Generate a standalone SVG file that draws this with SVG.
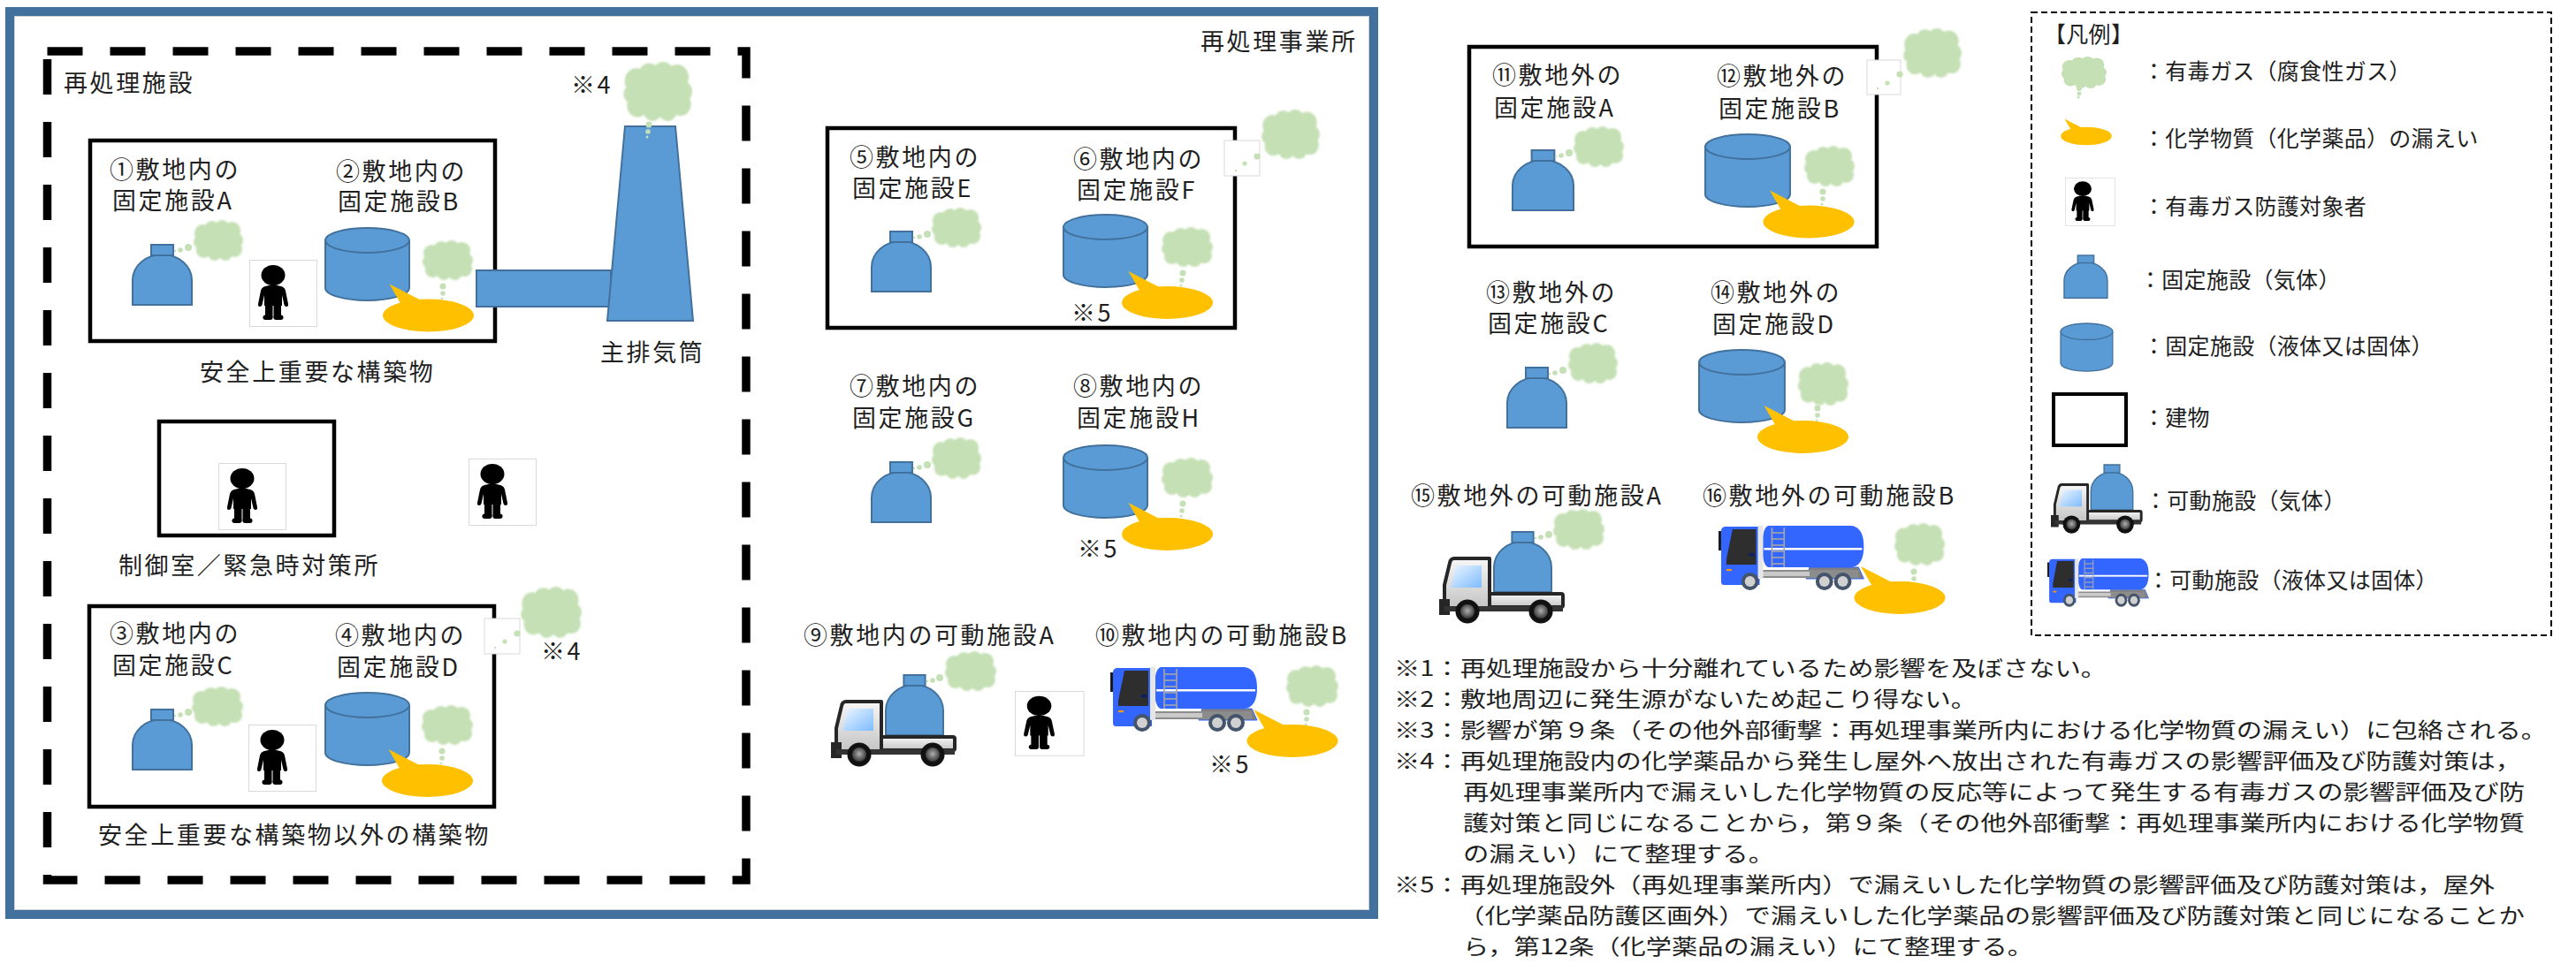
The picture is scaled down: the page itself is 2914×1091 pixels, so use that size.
<svg xmlns="http://www.w3.org/2000/svg" xmlns:xlink="http://www.w3.org/1999/xlink" width="2914" height="1091" viewBox="0 0 2914 1091">
<style>
  text { font-family: "Noto Sans CJK JP", "Noto Sans CJK SC", sans-serif; fill: #1f1f1f; }
  .lbl { font-size: 27px; letter-spacing: 2.6px; }
  .leg { font-size: 25px; letter-spacing: 0.3px; }
  .note { font-size: 24px; }
  .bldg { fill: none; stroke: #000; stroke-width: 4.5; }
  .blue { fill: #5B9BD5; stroke: #41719C; stroke-width: 2; }
  .gas { fill: #C5E0B4; }
  .leakc { fill: #FFC000; }
  .pbox { fill: #fff; stroke: #d9d9d9; stroke-width: 1; }
</style>
<defs>
  <filter id="soft" x="-10%" y="-10%" width="120%" height="120%">
    <feGaussianBlur stdDeviation="0.9"/>
  </filter>
  <linearGradient id="tbody" x1="0" y1="0" x2="0" y2="1">
    <stop offset="0" stop-color="#f7f7f7"/>
    <stop offset="1" stop-color="#c4c4c4"/>
  </linearGradient>
  <linearGradient id="twin" x1="0" y1="0" x2="1" y2="1">
    <stop offset="0" stop-color="#eef6ff"/>
    <stop offset="1" stop-color="#7dbcff"/>
  </linearGradient>
  <radialGradient id="hub" cx="0.5" cy="0.45" r="0.6">
    <stop offset="0" stop-color="#b0b0b0"/>
    <stop offset="1" stop-color="#2a2a2a"/>
  </radialGradient>

  <!-- toxic gas cloud, 60 x 46 -->
  <g id="cloud" class="gas" filter="url(#soft)">
    <ellipse cx="30" cy="24" rx="22" ry="16"/>
    <circle cx="12" cy="15" r="10"/>
    <circle cx="23" cy="10" r="9"/>
    <circle cx="35" cy="9" r="9"/>
    <circle cx="47" cy="12" r="10"/>
    <circle cx="52" cy="23" r="8"/>
    <circle cx="50" cy="33" r="9"/>
    <circle cx="39" cy="38" r="8"/>
    <circle cx="26" cy="38" r="8"/>
    <circle cx="13" cy="34" r="9"/>
    <circle cx="8" cy="25" r="7"/>
  </g>

  <!-- fixed facility (gas): bottle, 67 x 68 -->
  <g id="bottle">
    <path class="blue" d="M0,68 V40 A33.5,29 0 0 1 67,40 V68 Z"/>
    <rect class="blue" x="21" y="0" width="25" height="12"/>
  </g>

  <!-- fixed facility (liquid/solid): tank, 95 x 82 -->
  <g id="tank">
    <path class="blue" d="M0,14 V68 A47.5,14 0 0 0 95,68 V14 A47.5,14 0 0 0 0,14 Z"/>
    <path class="blue" fill="none" d="M0,14 A47.5,14 0 0 0 95,14"/>
  </g>

  <!-- chemical leak puddle, centred on the ellipse -->
  <g id="leak" class="leakc">
    <ellipse cx="0" cy="0" rx="51.5" ry="18.5"/>
    <polygon points="-44,-35.5 -31,-13 -31,0 -8,0 -8,-17"/>
  </g>

  <!-- protected person, 76 x 75 -->
  <g id="person">
    <rect class="pbox" x="0.5" y="0.5" width="76" height="75"/>
    <g fill="#000">
      <ellipse cx="27" cy="17.5" rx="13.5" ry="11.5"/>
      <path d="M18,30 Q27,27 36,30 Q40,31 41,35 L44,50 Q44.5,53 42,53 Q40,53 39.5,51 L37,40 L37,52 L17,52 L17,40 L14.5,51 Q14,53 12,53 Q9.5,53 10,50 L13,35 Q14,31 18,30 Z"/>
      <rect x="18" y="48" width="8.5" height="17"/>
      <rect x="27.5" y="48" width="8.5" height="17"/>
      <rect x="15.5" y="62.5" width="11" height="5.5" rx="2.7"/>
      <rect x="27.5" y="62.5" width="11" height="5.5" rx="2.7"/>
    </g>
  </g>

  <!-- mobile facility (gas): small truck carrying a bottle, 142 x 104 -->
  <g id="truck">
    <use href="#bottle" transform="translate(62,0) scale(0.97,1)"/>
    <rect x="52" y="70" width="88" height="15" rx="2" fill="url(#tbody)" stroke="#262626" stroke-width="4"/>
    <path d="M17,30 H57 V86 H6 V60 L12,35 Q13,30 17,30 Z" fill="url(#tbody)" stroke="#262626" stroke-width="4" stroke-linejoin="round"/>
    <path d="M19,38 H48 V63 H13 Z" fill="url(#twin)"/>
    <rect x="0" y="76" width="12" height="18" fill="#262626"/>
    <rect x="6" y="84" width="134" height="6" fill="#333"/>
    <circle cx="32" cy="90" r="13.5" fill="#111"/>
    <circle cx="32" cy="90" r="8" fill="url(#hub)"/>
    <circle cx="115" cy="90" r="13.5" fill="#111"/>
    <circle cx="115" cy="90" r="8" fill="url(#hub)"/>
  </g>

  <!-- mobile facility (liquid/solid): tanker lorry, 166 x 73 -->
  <g id="tanker">
    <path d="M57,0 H152 Q166,2 166,23.5 Q166,45 152,47 H57 Q50,45 50,23.5 Q50,2 57,0 Z" fill="#3366FF"/>
    <rect x="52" y="25" width="112" height="2.5" fill="#fff"/>
    <g stroke="#a6a6a6" stroke-width="1.6">
      <line x1="61" y1="2" x2="61" y2="47"/>
      <line x1="75" y1="2" x2="75" y2="47"/>
      <line x1="61" y1="8" x2="75" y2="8"/>
      <line x1="61" y1="15" x2="75" y2="15"/>
      <line x1="61" y1="22" x2="75" y2="22"/>
      <line x1="61" y1="29" x2="75" y2="29"/>
      <line x1="61" y1="36" x2="75" y2="36"/>
      <line x1="61" y1="43" x2="75" y2="43"/>
    </g>
    <path d="M104,47 H160 L166,60 H100 Z" fill="#7f7f7f" stroke="#3366FF" stroke-width="1"/>
    <rect x="24" y="50" width="136" height="9" fill="#8c8c8c"/>
    <rect x="46" y="52" width="58" height="5" fill="#c9c9c9"/>
    <path d="M3,5 Q4,1 8,1 H47 V67 H6 Q3,67 3,63 Z" fill="#3366FF"/>
    <rect x="45" y="0" width="6" height="60" fill="#e6e6e6"/>
    <path d="M16,4 H43 V44 H9 V38 Z" fill="#2e2e2e"/>
    <rect x="35" y="31" width="6" height="3.5" fill="#0a1f66"/>
    <rect x="9" y="49" width="6" height="2.2" fill="#ff9900"/>
    <rect x="0" y="6" width="3" height="22" fill="#1a1a1a"/>
    <circle cx="36" cy="63" r="10" fill="#44546A"/>
    <circle cx="36" cy="63" r="6" fill="#d0d0d0"/>
    <circle cx="121" cy="63" r="10" fill="#44546A"/>
    <circle cx="121" cy="63" r="6" fill="#d0d0d0"/>
    <circle cx="142" cy="63" r="10" fill="#44546A"/>
    <circle cx="142" cy="63" r="6" fill="#d0d0d0"/>
  </g>
</defs>

<rect width="2914" height="1091" fill="#fff"/>

<!-- site boundary: 再処理事業所 -->
<g id="site">
  <rect x="11" y="13" width="1543" height="1022" fill="none" stroke="#41719C" stroke-width="10"/>
  <rect x="16.5" y="18.5" width="1532" height="1011" fill="none" stroke="#d0d0d0" stroke-width="1"/>
  <text class="lbl" x="1358" y="57">再処理事業所</text>
</g>

<!-- reprocessing facility boundary -->
<g id="facility">
  <path d="M53.5,58 H844 V996 H53.5 Z" fill="none" stroke="#000" stroke-width="9.5" stroke-dasharray="40 31"/>
  <text class="lbl" x="72" y="104">再処理施設</text>
</g>

<!-- safety-important structure -->
<g id="bldg-safety">
  <rect class="bldg" x="102" y="159" width="458" height="227"/>
  <text class="lbl" x="226" y="431">安全上重要な構築物</text>
</g>

<g id="node-1">
  <text class="lbl" x="124" y="202">①敷地内の</text>
  <text class="lbl" x="127" y="237">固定施設A</text>
  <use href="#bottle" transform="translate(150,277)"/>
  <circle class="gas" cx="198" cy="284" r="1.2"/>
  <circle class="gas" cx="204" cy="283" r="2.8"/>
  <circle class="gas" cx="213" cy="280" r="4"/>
  <use href="#cloud" transform="translate(218,249) scale(0.95,1)"/>
</g>

<g id="person-1"><use href="#person" transform="translate(282,294)"/></g>

<g id="node-2">
  <text class="lbl" x="380" y="204">②敷地内の</text>
  <text class="lbl" x="382" y="238">固定施設B</text>
  <use href="#tank" transform="translate(368,258)"/>
  <use href="#cloud" transform="translate(477,272) scale(0.967,0.978)"/>
  <circle class="gas" cx="501" cy="324" r="3.5"/>
  <circle class="gas" cx="501" cy="332" r="2.8"/>
  <circle class="gas" cx="500" cy="338" r="1.5"/>
  <use href="#leak" transform="translate(484.5,357)"/>
</g>

<!-- exhaust duct from the building to the stack -->
<g id="connectors">
  <rect class="blue" x="539" y="306" width="152" height="41"/>
</g>

<g id="stack">
  <polygon class="blue" points="707,143 764,143 784,363 687,363"/>
  <use href="#cloud" transform="translate(704,70) scale(1.317,1.457)"/>
  <circle class="gas" cx="734" cy="141" r="3.5"/>
  <circle class="gas" cx="733" cy="149" r="2.8"/>
  <circle class="gas" cx="732" cy="155" r="1.5"/>
  <text class="lbl" x="646" y="106">※4</text>
  <text class="lbl" x="679" y="409">主排気筒</text>
</g>

<!-- control room / emergency response centre -->
<g id="control-room">
  <rect class="bldg" x="180" y="477" width="198" height="129"/>
  <use href="#person" transform="translate(247,524)"/>
  <text class="lbl" x="134" y="650">制御室／緊急時対策所</text>
</g>

<g id="person-outdoor"><use href="#person" transform="translate(530,519)"/></g>

<!-- other structures -->
<g id="bldg-other">
  <rect class="bldg" x="101" y="686" width="458" height="227"/>
  <text class="lbl" x="111" y="955">安全上重要な構築物以外の構築物</text>
  <rect class="pbox" x="548" y="700" width="40" height="40"/>
  <circle class="gas" cx="560" cy="733" r="1.2"/>
  <circle class="gas" cx="571" cy="726" r="2.6"/>
  <circle class="gas" cx="585" cy="717" r="3.6"/>
  <use href="#cloud" transform="translate(588,664) scale(1.167,1.261)"/>
  <text class="lbl" x="612" y="747">※4</text>
</g>

<g id="node-3">
  <text class="lbl" x="124" y="727">③敷地内の</text>
  <text class="lbl" x="127" y="763">固定施設C</text>
  <use href="#bottle" transform="translate(150,803)"/>
  <circle class="gas" cx="198" cy="810" r="1.2"/>
  <circle class="gas" cx="204" cy="809" r="2.8"/>
  <circle class="gas" cx="213" cy="806" r="4"/>
  <use href="#cloud" transform="translate(216,777) scale(0.983,0.978)"/>
</g>

<g id="person-3"><use href="#person" transform="translate(281,820)"/></g>

<g id="node-4">
  <text class="lbl" x="379" y="729">④敷地内の</text>
  <text class="lbl" x="381" y="765">固定施設D</text>
  <use href="#tank" transform="translate(368,784)"/>
  <use href="#cloud" transform="translate(476,798) scale(0.983,0.978)"/>
  <circle class="gas" cx="500" cy="850" r="3.5"/>
  <circle class="gas" cx="500" cy="858" r="2.8"/>
  <circle class="gas" cx="499" cy="864" r="1.5"/>
  <use href="#leak" transform="translate(483.5,883.5)"/>
</g>

<!-- on-site building with facilities E/F -->
<g id="bldg-ef">
  <rect class="bldg" x="936" y="145" width="461" height="226"/>
  <rect class="pbox" x="1385" y="159" width="40" height="40"/>
  <circle class="gas" cx="1398" cy="193" r="1.2"/>
  <circle class="gas" cx="1408" cy="185" r="2.6"/>
  <circle class="gas" cx="1422" cy="177" r="3.6"/>
  <use href="#cloud" transform="translate(1426,124) scale(1.117,1.217)"/>
</g>

<g id="node-5">
  <text class="lbl" x="961" y="188">⑤敷地内の</text>
  <text class="lbl" x="964" y="223">固定施設E</text>
  <use href="#bottle" transform="translate(986,262)"/>
  <circle class="gas" cx="1034" cy="269" r="1.2"/>
  <circle class="gas" cx="1040" cy="268" r="2.8"/>
  <circle class="gas" cx="1049" cy="265" r="4"/>
  <use href="#cloud" transform="translate(1053,235) scale(0.95,0.978)"/>
</g>

<g id="node-6">
  <text class="lbl" x="1214" y="190">⑥敷地内の</text>
  <text class="lbl" x="1218" y="225">固定施設F</text>
  <use href="#tank" transform="translate(1203,243)"/>
  <use href="#cloud" transform="translate(1313,257) scale(0.983,0.978)"/>
  <circle class="gas" cx="1338" cy="309" r="3.5"/>
  <circle class="gas" cx="1337" cy="317" r="2.8"/>
  <circle class="gas" cx="1336" cy="323" r="1.5"/>
  <use href="#leak" transform="translate(1320.5,342.5)"/>
  <text class="lbl" x="1212" y="364">※5</text>
</g>

<g id="node-7">
  <text class="lbl" x="961" y="447">⑦敷地内の</text>
  <text class="lbl" x="964" y="483">固定施設G</text>
  <use href="#bottle" transform="translate(986,523)"/>
  <circle class="gas" cx="1034" cy="530" r="1.2"/>
  <circle class="gas" cx="1040" cy="529" r="2.8"/>
  <circle class="gas" cx="1049" cy="526" r="4"/>
  <use href="#cloud" transform="translate(1053,495) scale(0.95,1.02)"/>
</g>

<g id="node-8">
  <text class="lbl" x="1214" y="447">⑧敷地内の</text>
  <text class="lbl" x="1218" y="483">固定施設H</text>
  <use href="#tank" transform="translate(1203,504)"/>
  <use href="#cloud" transform="translate(1313,518) scale(0.983,0.978)"/>
  <circle class="gas" cx="1338" cy="570" r="3.5"/>
  <circle class="gas" cx="1337" cy="578" r="2.8"/>
  <circle class="gas" cx="1336" cy="584" r="1.5"/>
  <use href="#leak" transform="translate(1320.5,604.5)"/>
  <text class="lbl" x="1219" y="631">※5</text>
</g>

<g id="node-9">
  <text class="lbl" x="909" y="729">⑨敷地内の可動施設A</text>
  <use href="#truck" transform="translate(940,764)"/>
  <circle class="gas" cx="1049" cy="771" r="1.2"/>
  <circle class="gas" cx="1055" cy="770" r="2.8"/>
  <circle class="gas" cx="1063" cy="767" r="4"/>
  <use href="#cloud" transform="translate(1068,737) scale(0.983,0.978)"/>
</g>

<g id="person-9"><use href="#person" transform="translate(1148,782) scale(1.02,0.97)"/></g>

<g id="node-10">
  <text class="lbl" x="1239" y="729">⑩敷地内の可動施設B</text>
  <use href="#tanker" transform="translate(1256,755)"/>
  <use href="#cloud" transform="translate(1454,753) scale(1,1.02)"/>
  <circle class="gas" cx="1478" cy="806" r="3.5"/>
  <circle class="gas" cx="1478" cy="814" r="2.8"/>
  <circle class="gas" cx="1477" cy="820" r="1.5"/>
  <use href="#leak" transform="translate(1462,838.5)"/>
  <text class="lbl" x="1368" y="875">※5</text>
</g>

<!-- off-site building with facilities A/B -->
<g id="bldg-offsite">
  <rect class="bldg" x="1662" y="53" width="461" height="226"/>
  <rect class="pbox" x="2112" y="68" width="38" height="39"/>
  <circle class="gas" cx="2124" cy="100" r="1.2"/>
  <circle class="gas" cx="2135" cy="94" r="2.6"/>
  <circle class="gas" cx="2149" cy="84" r="3.6"/>
  <use href="#cloud" transform="translate(2152,32) scale(1.117,1.217)"/>
</g>

<g id="node-11">
  <text class="lbl" x="1688" y="95">⑪敷地外の</text>
  <text class="lbl" x="1690" y="132">固定施設A</text>
  <use href="#bottle" transform="translate(1711,170) scale(1.03,1)"/>
  <circle class="gas" cx="1760" cy="177" r="1.2"/>
  <circle class="gas" cx="1766" cy="176" r="2.8"/>
  <circle class="gas" cx="1775" cy="173" r="4"/>
  <use href="#cloud" transform="translate(1779,143) scale(0.967,1)"/>
</g>

<g id="node-12">
  <text class="lbl" x="1942" y="96">⑫敷地外の</text>
  <text class="lbl" x="1944" y="133">固定施設B</text>
  <use href="#tank" transform="translate(1929,152) scale(1.01,1)"/>
  <use href="#cloud" transform="translate(2040,165) scale(0.967,1)"/>
  <circle class="gas" cx="2062" cy="217" r="3.5"/>
  <circle class="gas" cx="2062" cy="225" r="2.8"/>
  <circle class="gas" cx="2061" cy="231" r="1.5"/>
  <use href="#leak" transform="translate(2046,251)"/>
</g>

<g id="node-13">
  <text class="lbl" x="1681" y="341">⑬敷地外の</text>
  <text class="lbl" x="1683" y="376">固定施設C</text>
  <use href="#bottle" transform="translate(1705,416)"/>
  <circle class="gas" cx="1753" cy="423" r="1.2"/>
  <circle class="gas" cx="1759" cy="422" r="2.8"/>
  <circle class="gas" cx="1768" cy="419" r="4"/>
  <use href="#cloud" transform="translate(1773,388) scale(0.95,1)"/>
</g>

<g id="node-14">
  <text class="lbl" x="1935" y="341">⑭敷地外の</text>
  <text class="lbl" x="1937" y="377">固定施設D</text>
  <use href="#tank" transform="translate(1922,396) scale(1.02,1)"/>
  <use href="#cloud" transform="translate(2033,410) scale(0.967,1.065)"/>
  <circle class="gas" cx="2056" cy="462" r="3.5"/>
  <circle class="gas" cx="2056" cy="470" r="2.8"/>
  <circle class="gas" cx="2055" cy="476" r="1.5"/>
  <use href="#leak" transform="translate(2039.5,494.5)"/>
</g>

<g id="node-15">
  <text class="lbl" x="1596" y="571">⑮敷地外の可動施設A</text>
  <use href="#truck" transform="translate(1628,602)"/>
  <circle class="gas" cx="1737" cy="609" r="1.2"/>
  <circle class="gas" cx="1743" cy="608" r="2.8"/>
  <circle class="gas" cx="1752" cy="605" r="4"/>
  <use href="#cloud" transform="translate(1756,576) scale(0.983,1)"/>
</g>

<g id="node-16">
  <text class="lbl" x="1926" y="571">⑯敷地外の可動施設B</text>
  <use href="#tanker" transform="translate(1944,595) scale(0.99,1)"/>
  <use href="#cloud" transform="translate(2142,592) scale(0.967,1.043)"/>
  <circle class="gas" cx="2165" cy="647" r="3.5"/>
  <circle class="gas" cx="2165" cy="655" r="2.8"/>
  <circle class="gas" cx="2164" cy="661" r="1.5"/>
  <use href="#leak" transform="translate(2149,676.5)"/>
</g>

<!-- legend -->
<g id="legend">
  <rect x="2298" y="14" width="588" height="705" fill="none" stroke="#000" stroke-width="2" stroke-dasharray="7 4"/>
  <text class="leg" x="2312" y="48">【凡例】</text>

  <use href="#cloud" transform="translate(2331,64) scale(0.867,0.783)"/>
  <circle class="gas" cx="2352" cy="100" r="3"/>
  <circle class="gas" cx="2352" cy="106" r="2.4"/>
  <circle class="gas" cx="2351" cy="110" r="1.5"/>
  <text class="leg" x="2424" y="90">：有毒ガス（腐食性ガス）</text>

  <use href="#leak" transform="translate(2360,154) scale(0.56,0.55)"/>
  <text class="leg" x="2424" y="166">：化学物質（化学薬品）の漏えい</text>

  <use href="#person" transform="translate(2336,201) scale(0.74,0.72)"/>
  <text class="leg" x="2424" y="243">：有毒ガス防護対象者</text>

  <use href="#bottle" transform="translate(2335,289) scale(0.73,0.71)"/>
  <text class="leg" x="2420" y="326">：固定施設（気体）</text>

  <use href="#tank" transform="translate(2331,366) scale(0.62,0.66)"/>
  <text class="leg" x="2424" y="401">：固定施設（液体又は固体）</text>

  <rect x="2323" y="446" width="82" height="58" fill="none" stroke="#000" stroke-width="4"/>
  <text class="leg" x="2424" y="482">：建物</text>

  <use href="#truck" transform="translate(2320,526) scale(0.73,0.75)"/>
  <text class="leg" x="2426" y="576">：可動施設（気体）</text>

  <use href="#tanker" transform="translate(2316,632) scale(0.69,0.75)"/>
  <text class="leg" x="2429" y="666">：可動施設（液体又は固体）</text>
</g>

<!-- notes -->
<g id="notes">
  <text class="note" x="1577" y="765" textLength="806" lengthAdjust="spacingAndGlyphs">※1：再処理施設から十分離れているため影響を及ぼさない。</text>
  <text class="note" x="1577" y="800" textLength="659" lengthAdjust="spacingAndGlyphs">※2：敷地周辺に発生源がないため起こり得ない。</text>
  <text class="note" x="1577" y="835" textLength="1304" lengthAdjust="spacingAndGlyphs">※3：影響が第９条（その他外部衝撃：再処理事業所内における化学物質の漏えい）に包絡される。</text>
  <text class="note" x="1577" y="870" textLength="1275" lengthAdjust="spacingAndGlyphs">※4：再処理施設内の化学薬品から発生し屋外へ放出された有毒ガスの影響評価及び防護対策は，</text>
  <text class="note" x="1655" y="905" textLength="1201" lengthAdjust="spacingAndGlyphs">再処理事業所内で漏えいした化学物質の反応等によって発生する有毒ガスの影響評価及び防</text>
  <text class="note" x="1655" y="940" textLength="1201" lengthAdjust="spacingAndGlyphs">護対策と同じになることから，第９条（その他外部衝撃：再処理事業所内における化学物質</text>
  <text class="note" x="1655" y="975" textLength="352" lengthAdjust="spacingAndGlyphs">の漏えい）にて整理する。</text>
  <text class="note" x="1577" y="1010" textLength="1245" lengthAdjust="spacingAndGlyphs">※5：再処理施設外（再処理事業所内）で漏えいした化学物質の影響評価及び防護対策は，屋外</text>
  <text class="note" x="1650" y="1045" textLength="1206" lengthAdjust="spacingAndGlyphs">（化学薬品防護区画外）で漏えいした化学薬品の影響評価及び防護対策と同じになることか</text>
  <text class="note" x="1655" y="1080" textLength="645" lengthAdjust="spacingAndGlyphs">ら，第12条（化学薬品の漏えい）にて整理する。</text>
</g>
</svg>
